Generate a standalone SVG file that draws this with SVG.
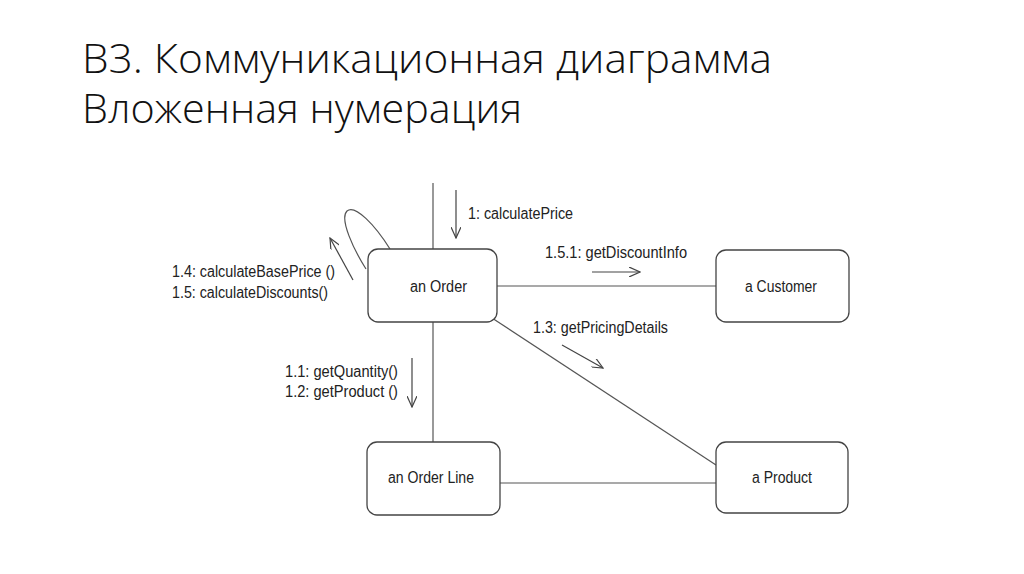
<svg xmlns="http://www.w3.org/2000/svg" width="1024" height="574" viewBox="0 0 1024 574">
<defs>
<style>
.title{font-family:"Open Sans","Noto Sans","Noto Sans CJK SC",sans-serif;font-weight:300;font-size:40px;fill:#111}
.lbl{font-family:"Liberation Sans",Arial,sans-serif;font-size:16px;fill:#222}
.box{fill:#fff;stroke:#444;stroke-width:1.3}
.ln{fill:none;stroke:#555;stroke-width:1.2}
.ar{fill:none;stroke:#444;stroke-width:1.2}
</style>
<marker id="oa" viewBox="0 0 12 10" refX="11" refY="5" markerWidth="12" markerHeight="10" markerUnits="userSpaceOnUse" orient="auto">
<path d="M0,0 L11,5 L0,10" fill="none" stroke="#444" stroke-width="1.2"/>
</marker>
</defs>
<rect width="1024" height="574" fill="#fff"/>
<g id="title">
<text class="title" x="82" y="73" textLength="690" lengthAdjust="spacingAndGlyphs">В3. Коммуникационная диаграмма</text>
<text class="title" x="82" y="123" textLength="440" lengthAdjust="spacingAndGlyphs">Вложенная нумерация</text>
</g>
<g id="connectors">
<line class="ln" x1="433" y1="183" x2="433" y2="249"/>
<line class="ln" x1="433" y1="322" x2="433" y2="442"/>
<line class="ln" x1="497" y1="286" x2="716" y2="286"/>
<line class="ln" x1="492" y1="318" x2="716" y2="465"/>
<line class="ln" x1="500" y1="483" x2="716" y2="483"/>
<path class="ln" d="M390,249 C375,225 355,204 347,211 C339,219 354,250 366,269"/>
</g>
<g id="messages">
<line class="ar" x1="456" y1="190" x2="456" y2="238" marker-end="url(#oa)"/>
<text class="lbl" x="468" y="219" textLength="105" lengthAdjust="spacingAndGlyphs">1: calculatePrice</text>
<line class="ar" x1="592" y1="272" x2="640" y2="272" marker-end="url(#oa)"/>
<text class="lbl" x="545" y="258" textLength="142" lengthAdjust="spacingAndGlyphs">1.5.1: getDiscountInfo</text>
<line class="ar" x1="562" y1="345" x2="603" y2="368" marker-end="url(#oa)"/>
<text class="lbl" x="533" y="333" textLength="135" lengthAdjust="spacingAndGlyphs">1.3: getPricingDetails</text>
<line class="ar" x1="412" y1="358" x2="412" y2="407" marker-end="url(#oa)"/>
<text class="lbl" x="285" y="377" textLength="113" lengthAdjust="spacingAndGlyphs">1.1: getQuantity()</text>
<text class="lbl" x="285" y="397" textLength="113" lengthAdjust="spacingAndGlyphs">1.2: getProduct ()</text>
<line class="ar" x1="353" y1="280" x2="330" y2="238" marker-end="url(#oa)"/>
<text class="lbl" x="172" y="277" textLength="163" lengthAdjust="spacingAndGlyphs">1.4: calculateBasePrice ()</text>
<text class="lbl" x="172" y="298" textLength="156" lengthAdjust="spacingAndGlyphs">1.5: calculateDiscounts()</text>
</g>
<g id="anOrder">
<rect class="box" x="368" y="249" width="129" height="73" rx="10"/>
<text class="lbl" x="410" y="292" textLength="57" lengthAdjust="spacingAndGlyphs">an Order</text>
</g>
<g id="aCustomer">
<rect class="box" x="716" y="250" width="133" height="72" rx="10"/>
<text class="lbl" x="745" y="292" textLength="72" lengthAdjust="spacingAndGlyphs">a Customer</text>
</g>
<g id="anOrderLine">
<rect class="box" x="367" y="442" width="133" height="73" rx="10"/>
<text class="lbl" x="388" y="483" textLength="86" lengthAdjust="spacingAndGlyphs">an Order Line</text>
</g>
<g id="aProduct">
<rect class="box" x="716" y="442" width="132" height="71" rx="10"/>
<text class="lbl" x="752" y="483" textLength="60" lengthAdjust="spacingAndGlyphs">a Product</text>
</g>
</svg>
